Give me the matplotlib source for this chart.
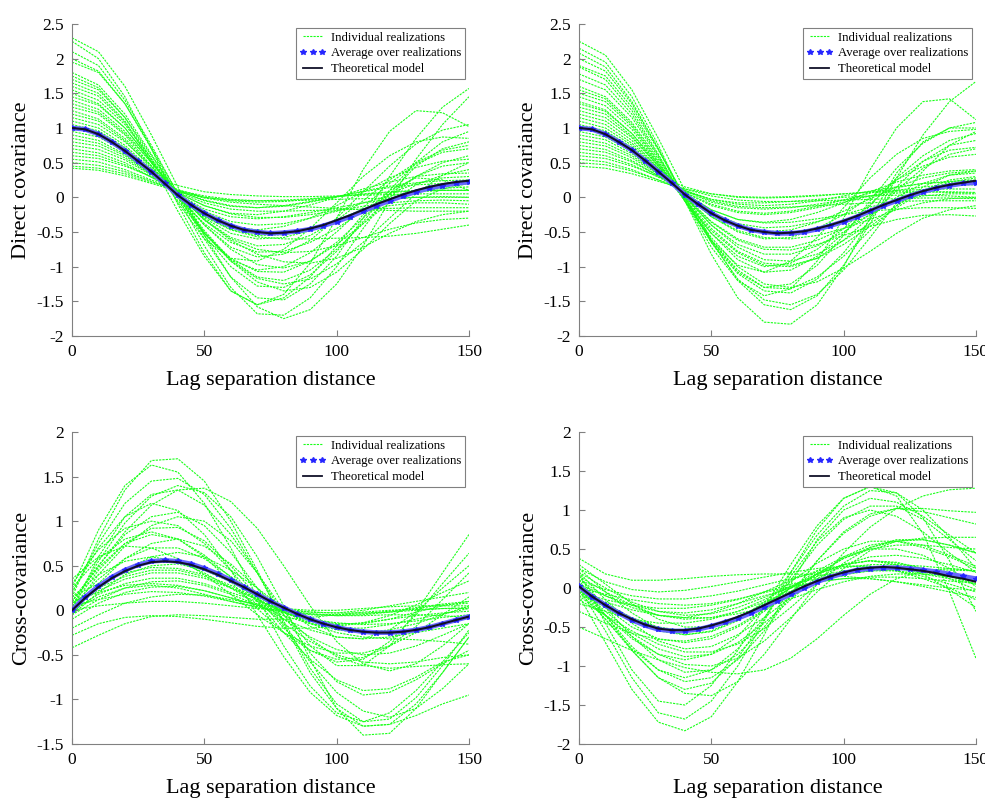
import matplotlib
matplotlib.use("Agg")
import matplotlib.pyplot as plt
from matplotlib.lines import Line2D
from matplotlib.ticker import FuncFormatter
import numpy as np

plt.rcParams['font.family'] = 'Liberation Serif'
plt.rcParams['axes.unicode_minus'] = False

# lags of the individual realizations (every 10) and of the model / average (every 5)
lagCoarse = list(range(0, 151, 10))
lagFine = list(range(0, 151, 5))

# ---------------- top left : direct covariance ----------------
theoTL = [1.00, 0.98, 0.91, 0.80, 0.67, 0.52, 0.37, 0.20, 0.03, -0.11, -0.23, -0.33, -0.41, -0.47, -0.50, -0.52,
          -0.51, -0.49, -0.45, -0.40, -0.33, -0.26, -0.18, -0.10, -0.03, 0.04, 0.10, 0.15, 0.19, 0.22, 0.24]
avgTL = [1.00, 0.98, 0.91, 0.80, 0.67, 0.52, 0.37, 0.20, 0.03, -0.11, -0.23, -0.33, -0.41, -0.47, -0.50, -0.52,
         -0.51, -0.49, -0.46, -0.41, -0.35, -0.28, -0.20, -0.12, -0.05, 0.02, 0.08, 0.13, 0.17, 0.20, 0.22]
realTL = [
    [2.30, 2.10, 1.60, 0.90, 0.15, -0.55, -1.15, -1.58, -1.75, -1.62, -1.25, -0.70, -0.05, 0.55, 1.05, 1.45],
    [2.25, 2.00, 1.45, 0.70, -0.10, -0.80, -1.35, -1.55, -1.40, -0.95, -0.30, 0.40, 0.95, 1.25, 1.22, 1.02],
    [2.10, 1.90, 1.40, 0.75, 0.05, -0.60, -1.15, -1.45, -1.48, -1.25, -0.85, -0.30, 0.30, 0.85, 1.30, 1.57],
    [1.95, 1.80, 1.35, 0.70, 0.00, -0.70, -1.30, -1.68, -1.70, -1.45, -1.00, -0.45, 0.05, 0.45, 0.70, 0.80],
    [1.80, 1.62, 1.20, 0.62, 0.02, -0.55, -1.00, -1.28, -1.30, -1.12, -0.78, -0.35, 0.10, 0.50, 0.80, 0.95],
    [1.70, 1.55, 1.15, 0.60, 0.05, -0.48, -0.90, -1.15, -1.20, -1.05, -0.75, -0.38, 0.00, 0.30, 0.50, 0.60],
    [1.65, 1.50, 1.10, 0.50, -0.20, -0.85, -1.35, -1.55, -1.45, -1.15, -0.70, -0.25, 0.10, 0.28, 0.25, 0.10],
    [1.55, 1.40, 1.05, 0.55, 0.05, -0.40, -0.75, -0.97, -1.02, -0.92, -0.68, -0.38, -0.08, 0.18, 0.32, 0.40],
    [1.50, 1.35, 1.00, 0.52, 0.02, -0.40, -0.72, -0.86, -0.82, -0.62, -0.30, 0.08, 0.45, 0.77, 0.97, 1.05],
    [1.45, 1.33, 1.00, 0.52, 0.00, -0.50, -0.92, -1.22, -1.35, -1.30, -1.08, -0.75, -0.38, -0.05, 0.12, 0.20],
    [1.40, 1.27, 0.95, 0.50, 0.05, -0.32, -0.58, -0.70, -0.68, -0.55, -0.33, -0.05, 0.25, 0.50, 0.68, 0.75],
    [1.30, 1.20, 0.90, 0.45, -0.05, -0.52, -0.88, -1.07, -1.08, -0.92, -0.65, -0.30, 0.05, 0.30, 0.45, 0.50],
    [1.25, 1.13, 0.85, 0.45, 0.03, -0.30, -0.52, -0.60, -0.58, -0.48, -0.35, -0.22, -0.12, -0.08, -0.08, -0.10],
    [1.20, 1.10, 0.82, 0.42, 0.00, -0.38, -0.65, -0.79, -0.78, -0.65, -0.45, -0.20, 0.05, 0.20, 0.28, 0.30],
    [1.15, 1.05, 0.80, 0.45, 0.05, -0.32, -0.62, -0.82, -0.93, -0.95, -0.88, -0.72, -0.52, -0.35, -0.25, -0.20],
    [1.10, 1.00, 0.75, 0.40, 0.02, -0.28, -0.47, -0.57, -0.60, -0.60, -0.59, -0.58, -0.56, -0.52, -0.46, -0.40],
    [1.05, 0.96, 0.72, 0.38, 0.02, -0.27, -0.46, -0.55, -0.54, -0.46, -0.33, -0.17, -0.02, 0.08, 0.13, 0.15],
    [1.00, 0.92, 0.70, 0.38, 0.03, -0.25, -0.42, -0.47, -0.42, -0.30, -0.12, 0.08, 0.28, 0.43, 0.52, 0.55],
    [0.95, 0.87, 0.66, 0.36, 0.05, -0.17, -0.28, -0.31, -0.28, -0.22, -0.15, -0.08, -0.03, 0.00, 0.01, 0.00],
    [0.90, 0.82, 0.62, 0.34, 0.03, -0.20, -0.35, -0.40, -0.38, -0.30, -0.20, -0.08, 0.02, 0.08, 0.10, 0.10],
    [0.85, 0.78, 0.60, 0.34, 0.07, -0.12, -0.23, -0.25, -0.20, -0.11, 0.00, 0.12, 0.22, 0.30, 0.34, 0.35],
    [0.80, 0.74, 0.57, 0.33, 0.08, -0.08, -0.17, -0.20, -0.20, -0.19, -0.18, -0.17, -0.16, -0.15, -0.15, -0.15],
    [0.75, 0.69, 0.54, 0.32, 0.10, -0.05, -0.13, -0.15, -0.12, -0.06, 0.01, 0.08, 0.14, 0.18, 0.20, 0.20],
    [0.70, 0.64, 0.50, 0.29, 0.06, -0.12, -0.24, -0.29, -0.29, -0.25, -0.19, -0.13, -0.08, -0.05, -0.04, -0.05],
    [0.65, 0.60, 0.47, 0.29, 0.11, 0.00, -0.04, -0.05, -0.04, -0.02, 0.01, 0.04, 0.07, 0.09, 0.10, 0.10],
    [0.60, 0.56, 0.45, 0.30, 0.17, 0.08, 0.04, 0.02, 0.01, 0.01, 0.02, 0.03, 0.04, 0.05, 0.05, 0.05],
    [0.55, 0.51, 0.40, 0.25, 0.09, -0.04, -0.12, -0.15, -0.13, -0.07, 0.01, 0.09, 0.16, 0.21, 0.24, 0.25],
    [0.50, 0.46, 0.37, 0.23, 0.09, -0.01, -0.07, -0.10, -0.12, -0.14, -0.16, -0.18, -0.19, -0.20, -0.20, -0.20],
    [0.45, 0.42, 0.34, 0.22, 0.10, 0.02, -0.03, -0.05, -0.05, -0.04, -0.03, -0.02, -0.01, 0.00, 0.00, 0.00],
    [0.42, 0.39, 0.31, 0.20, 0.09, 0.00, -0.05, -0.07, -0.06, -0.03, 0.01, 0.05, 0.08, 0.10, 0.10, 0.10],
    [1.75, 1.58, 1.15, 0.55, -0.08, -0.60, -0.88, -0.92, -0.75, -0.45, -0.08, 0.30, 0.60, 0.80, 0.87, 0.85],
    [2.00, 1.82, 1.35, 0.72, 0.05, -0.52, -0.90, -1.05, -1.00, -0.80, -0.50, -0.15, 0.20, 0.48, 0.65, 0.70],
    [1.35, 1.23, 0.92, 0.50, 0.05, -0.33, -0.60, -0.75, -0.80, -0.78, -0.70, -0.58, -0.46, -0.37, -0.32, -0.30],
    [1.60, 1.46, 1.08, 0.56, 0.00, -0.52, -0.92, -1.17, -1.25, -1.18, -0.96, -0.65, -0.30, 0.05, 0.32, 0.50],
]

# ---------------- top right : direct covariance ----------------
theoTR = [1.00, 0.98, 0.91, 0.80, 0.68, 0.53, 0.37, 0.21, 0.04, -0.10, -0.23, -0.33, -0.41, -0.47, -0.50, -0.52,
          -0.51, -0.49, -0.45, -0.40, -0.34, -0.27, -0.19, -0.11, -0.04, 0.03, 0.09, 0.14, 0.18, 0.21, 0.24]
avgTR = [1.00, 0.98, 0.91, 0.80, 0.68, 0.53, 0.37, 0.21, 0.04, -0.10, -0.23, -0.33, -0.41, -0.47, -0.50, -0.52,
         -0.52, -0.50, -0.46, -0.41, -0.35, -0.28, -0.20, -0.12, -0.05, 0.02, 0.08, 0.13, 0.17, 0.20, 0.21]
realTR = [
    [2.25, 2.05, 1.55, 0.85, 0.10, -0.62, -1.20, -1.55, -1.62, -1.42, -0.98, -0.38, 0.28, 0.90, 1.38, 1.67],
    [2.15, 1.95, 1.45, 0.75, -0.05, -0.82, -1.45, -1.80, -1.83, -1.55, -1.00, -0.30, 0.35, 0.80, 1.00, 1.00],
    [2.08, 1.88, 1.38, 0.70, -0.05, -0.72, -1.20, -1.42, -1.32, -0.92, -0.30, 0.40, 1.00, 1.38, 1.42, 1.12],
    [1.90, 1.75, 1.30, 0.68, 0.00, -0.65, -1.18, -1.48, -1.55, -1.40, -1.05, -0.58, -0.08, 0.38, 0.75, 0.95],
    [1.88, 1.70, 1.25, 0.62, -0.05, -0.65, -1.10, -1.35, -1.38, -1.18, -0.80, -0.32, 0.15, 0.52, 0.75, 0.82],
    [1.70, 1.55, 1.15, 0.58, -0.05, -0.62, -1.05, -1.30, -1.32, -1.15, -0.85, -0.48, -0.12, 0.15, 0.32, 0.38],
    [1.60, 1.45, 1.08, 0.55, -0.02, -0.52, -0.90, -1.08, -1.05, -0.85, -0.52, -0.12, 0.28, 0.60, 0.82, 0.92],
    [1.55, 1.42, 1.05, 0.52, -0.05, -0.58, -1.00, -1.25, -1.30, -1.22, -1.02, -0.78, -0.52, -0.30, -0.18, -0.12],
    [1.50, 1.38, 1.02, 0.50, -0.05, -0.52, -0.85, -1.00, -0.95, -0.75, -0.45, -0.10, 0.25, 0.52, 0.68, 0.72],
    [1.45, 1.32, 0.98, 0.48, -0.02, -0.45, -0.78, -0.95, -0.98, -0.88, -0.68, -0.42, -0.15, 0.08, 0.22, 0.28],
    [1.38, 1.26, 0.92, 0.45, -0.05, -0.48, -0.80, -0.98, -1.00, -0.88, -0.62, -0.28, 0.10, 0.42, 0.62, 0.70],
    [1.30, 1.20, 0.88, 0.45, 0.00, -0.40, -0.68, -0.82, -0.82, -0.70, -0.50, -0.25, 0.00, 0.20, 0.32, 0.35],
    [1.25, 1.15, 0.86, 0.45, 0.02, -0.35, -0.60, -0.72, -0.72, -0.62, -0.45, -0.25, -0.05, 0.10, 0.18, 0.20],
    [1.20, 1.10, 0.82, 0.42, 0.00, -0.36, -0.62, -0.75, -0.76, -0.68, -0.55, -0.42, -0.32, -0.26, -0.25, -0.27],
    [1.15, 1.05, 0.78, 0.42, 0.04, -0.28, -0.50, -0.60, -0.58, -0.45, -0.25, 0.00, 0.25, 0.45, 0.58, 0.62],
    [1.10, 1.00, 0.75, 0.40, 0.03, -0.28, -0.48, -0.58, -0.60, -0.55, -0.45, -0.32, -0.18, -0.08, -0.02, 0.00],
    [1.05, 0.96, 0.72, 0.38, 0.03, -0.25, -0.43, -0.50, -0.47, -0.36, -0.20, -0.02, 0.15, 0.28, 0.35, 0.38],
    [1.00, 0.92, 0.70, 0.38, 0.04, -0.22, -0.38, -0.44, -0.42, -0.35, -0.25, -0.14, -0.05, 0.02, 0.05, 0.05],
    [0.95, 0.87, 0.66, 0.36, 0.06, -0.18, -0.32, -0.36, -0.32, -0.22, -0.08, 0.08, 0.22, 0.32, 0.38, 0.40],
    [0.90, 0.83, 0.63, 0.35, 0.05, -0.18, -0.32, -0.37, -0.36, -0.31, -0.25, -0.20, -0.17, -0.15, -0.15, -0.16],
    [0.85, 0.78, 0.60, 0.34, 0.07, -0.12, -0.22, -0.25, -0.22, -0.15, -0.07, 0.02, 0.10, 0.15, 0.18, 0.18],
    [0.80, 0.74, 0.57, 0.33, 0.09, -0.07, -0.15, -0.17, -0.15, -0.10, -0.04, 0.02, 0.06, 0.08, 0.08, 0.07],
    [0.75, 0.69, 0.53, 0.31, 0.07, -0.10, -0.20, -0.23, -0.20, -0.13, -0.04, 0.06, 0.14, 0.20, 0.22, 0.22],
    [0.70, 0.65, 0.51, 0.31, 0.10, -0.03, -0.08, -0.08, -0.06, -0.03, 0.00, 0.02, 0.03, 0.03, 0.02, 0.00],
    [0.65, 0.60, 0.47, 0.29, 0.10, -0.05, -0.13, -0.15, -0.14, -0.12, -0.10, -0.08, -0.06, -0.05, -0.05, -0.05],
    [0.60, 0.56, 0.45, 0.30, 0.15, 0.05, 0.00, -0.01, 0.00, 0.02, 0.05, 0.08, 0.10, 0.11, 0.12, 0.12],
    [0.55, 0.51, 0.40, 0.25, 0.09, -0.03, -0.10, -0.12, -0.10, -0.05, 0.02, 0.09, 0.15, 0.20, 0.23, 0.25],
    [0.50, 0.47, 0.38, 0.25, 0.12, 0.02, -0.04, -0.06, -0.06, -0.05, -0.04, -0.03, -0.02, -0.01, -0.01, -0.02],
    [0.45, 0.42, 0.34, 0.23, 0.12, 0.05, 0.01, 0.00, 0.01, 0.03, 0.05, 0.07, 0.08, 0.08, 0.07, 0.06],
    [1.78, 1.62, 1.20, 0.60, -0.05, -0.62, -0.98, -1.08, -0.92, -0.58, -0.15, 0.28, 0.62, 0.85, 0.95, 0.98],
    [2.00, 1.82, 1.35, 0.70, 0.00, -0.62, -1.08, -1.30, -1.25, -0.98, -0.55, -0.05, 0.42, 0.78, 1.00, 1.08],
    [1.35, 1.24, 0.92, 0.48, 0.02, -0.40, -0.72, -0.90, -0.92, -0.82, -0.62, -0.38, -0.12, 0.10, 0.25, 0.30],
]

# ---------------- bottom left : cross-covariance ----------------
theoBL = [0.00, 0.14, 0.26, 0.36, 0.44, 0.50, 0.54, 0.55, 0.54, 0.51, 0.46, 0.40, 0.33, 0.26, 0.18, 0.10,
          0.03, -0.04, -0.10, -0.15, -0.19, -0.22, -0.24, -0.25, -0.25, -0.24, -0.22, -0.19, -0.15, -0.11, -0.07]
avgBL = [0.00, 0.15, 0.27, 0.37, 0.45, 0.51, 0.55, 0.56, 0.55, 0.52, 0.47, 0.41, 0.34, 0.26, 0.18, 0.10,
         0.03, -0.04, -0.10, -0.15, -0.19, -0.22, -0.24, -0.25, -0.25, -0.24, -0.22, -0.19, -0.15, -0.11, -0.07]
realBL = [
    [0.15, 0.80, 1.35, 1.68, 1.70, 1.45, 1.00, 0.45, -0.15, -0.70, -1.10, -1.30, -1.28, -1.05, -0.70, -0.30],
    [0.25, 0.90, 1.40, 1.63, 1.55, 1.20, 0.70, 0.15, -0.40, -0.85, -1.15, -1.25, -1.15, -0.90, -0.58, -0.25],
    [0.05, 0.55, 0.98, 1.28, 1.40, 1.32, 1.05, 0.60, 0.05, -0.55, -1.10, -1.40, -1.38, -1.10, -0.70, -0.30],
    [0.10, 0.50, 0.88, 1.18, 1.35, 1.37, 1.22, 0.92, 0.50, 0.05, -0.35, -0.60, -0.68, -0.60, -0.40, -0.15],
    [0.20, 0.70, 1.05, 1.20, 1.12, 0.85, 0.45, -0.05, -0.52, -0.92, -1.18, -1.30, -1.28, -1.18, -1.05, -0.95],
    [0.00, 0.40, 0.72, 0.95, 1.05, 1.00, 0.78, 0.42, 0.00, -0.40, -0.62, -0.62, -0.40, -0.02, 0.42, 0.85],
    [0.30, 0.68, 0.92, 1.00, 0.95, 0.75, 0.45, 0.10, -0.25, -0.55, -0.78, -0.90, -0.88, -0.75, -0.58, -0.50],
    [0.05, 0.45, 0.75, 0.92, 0.93, 0.78, 0.50, 0.15, -0.20, -0.45, -0.58, -0.55, -0.35, -0.05, 0.30, 0.64],
    [0.10, 0.48, 0.75, 0.85, 0.80, 0.62, 0.37, 0.10, -0.15, -0.35, -0.50, -0.58, -0.60, -0.58, -0.53, -0.50],
    [-0.05, 0.30, 0.58, 0.75, 0.80, 0.72, 0.52, 0.25, -0.05, -0.32, -0.52, -0.62, -0.65, -0.63, -0.61, -0.60],
    [0.35, 0.60, 0.72, 0.70, 0.58, 0.40, 0.18, -0.05, -0.25, -0.40, -0.48, -0.48, -0.40, -0.25, -0.05, 0.15],
    [0.00, 0.25, 0.45, 0.60, 0.65, 0.60, 0.45, 0.25, 0.02, -0.18, -0.30, -0.32, -0.22, -0.02, 0.25, 0.50],
    [0.15, 0.40, 0.55, 0.60, 0.55, 0.42, 0.25, 0.07, -0.10, -0.22, -0.30, -0.32, -0.30, -0.25, -0.20, -0.15],
    [-0.05, 0.20, 0.40, 0.50, 0.52, 0.45, 0.32, 0.15, 0.00, -0.10, -0.15, -0.15, -0.10, -0.02, 0.05, 0.10],
    [0.05, 0.22, 0.35, 0.42, 0.42, 0.36, 0.25, 0.12, -0.02, -0.15, -0.25, -0.30, -0.32, -0.33, -0.35, -0.38],
    [0.00, 0.18, 0.30, 0.36, 0.36, 0.30, 0.20, 0.10, 0.02, -0.02, -0.03, 0.00, 0.05, 0.10, 0.15, 0.20],
    [0.10, 0.20, 0.28, 0.30, 0.28, 0.22, 0.14, 0.06, 0.00, -0.04, -0.06, -0.05, -0.02, 0.02, 0.06, 0.08],
    [-0.10, 0.08, 0.20, 0.26, 0.27, 0.22, 0.14, 0.05, -0.03, -0.10, -0.14, -0.16, -0.15, -0.12, -0.08, -0.05],
    [0.05, 0.12, 0.18, 0.21, 0.20, 0.16, 0.10, 0.04, -0.01, -0.04, -0.05, -0.04, -0.01, 0.03, 0.07, 0.10],
    [-0.20, -0.05, 0.08, 0.15, 0.18, 0.17, 0.12, 0.07, 0.02, 0.00, 0.00, 0.02, 0.04, 0.05, 0.05, 0.05],
    [0.00, 0.05, 0.08, 0.10, 0.10, 0.08, 0.05, 0.02, 0.00, -0.02, -0.03, -0.03, -0.02, 0.00, 0.02, 0.03],
    [-0.42, -0.28, -0.15, -0.07, -0.05, -0.06, -0.08, -0.10, -0.10, -0.08, -0.05, -0.02, 0.00, 0.01, 0.02, 0.02],
    [-0.28, -0.15, -0.08, -0.06, -0.07, -0.10, -0.14, -0.18, -0.20, -0.20, -0.18, -0.14, -0.10, -0.06, -0.03, -0.01],
    [0.20, 0.75, 1.20, 1.45, 1.48, 1.30, 0.92, 0.42, -0.12, -0.65, -1.05, -1.25, -1.22, -0.98, -0.62, -0.22],
    [0.10, 0.50, 0.85, 1.05, 1.10, 0.95, 0.65, 0.25, -0.18, -0.58, -0.92, -1.13, -1.20, -1.10, -0.88, -0.60],
    [0.25, 0.58, 0.80, 0.88, 0.80, 0.60, 0.32, 0.02, -0.25, -0.45, -0.55, -0.53, -0.40, -0.18, 0.12, 0.42],
    [0.05, 0.35, 0.58, 0.70, 0.70, 0.58, 0.38, 0.14, -0.10, -0.30, -0.44, -0.50, -0.48, -0.40, -0.28, -0.15],
    [0.15, 0.30, 0.42, 0.48, 0.47, 0.40, 0.28, 0.13, -0.02, -0.14, -0.22, -0.25, -0.22, -0.15, -0.05, 0.05],
    [-0.05, 0.12, 0.25, 0.32, 0.33, 0.28, 0.18, 0.06, -0.06, -0.15, -0.20, -0.20, -0.16, -0.10, -0.04, 0.02],
    [0.08, 0.25, 0.38, 0.45, 0.45, 0.38, 0.26, 0.12, -0.02, -0.12, -0.16, -0.14, -0.06, 0.06, 0.20, 0.33],
    [0.00, 0.60, 1.05, 1.30, 1.35, 1.18, 0.85, 0.42, -0.05, -0.48, -0.80, -0.95, -0.92, -0.78, -0.60, -0.45],
    [0.00, 0.15, 0.25, 0.28, 0.25, 0.18, 0.10, 0.03, -0.02, -0.05, -0.06, -0.06, -0.05, -0.05, -0.06, -0.08],
]

# ---------------- bottom right : cross-covariance ----------------
theoBR = [0.02, -0.11, -0.22, -0.32, -0.40, -0.47, -0.52, -0.54, -0.54, -0.52, -0.48, -0.43, -0.37, -0.30, -0.22, -0.14,
          -0.06, 0.02, 0.09, 0.15, 0.20, 0.24, 0.26, 0.27, 0.26, 0.24, 0.22, 0.19, 0.15, 0.12, 0.08]
avgBR = [0.02, -0.11, -0.22, -0.32, -0.41, -0.48, -0.53, -0.55, -0.55, -0.53, -0.49, -0.44, -0.39, -0.32, -0.24, -0.16,
         -0.08, 0.00, 0.08, 0.14, 0.19, 0.23, 0.25, 0.26, 0.26, 0.25, 0.23, 0.21, 0.18, 0.15, 0.12]
realBR = [
    [-0.10, -0.70, -1.30, -1.72, -1.83, -1.65, -1.20, -0.60, 0.05, 0.62, 1.00, 1.15, 1.10, 0.92, 0.68, 0.45],
    [0.00, -0.55, -1.15, -1.60, -1.68, -1.45, -1.00, -0.42, 0.15, 0.60, 0.90, 1.00, 0.92, 0.72, 0.45, 0.20],
    [0.20, -0.45, -1.05, -1.45, -1.50, -1.25, -0.80, -0.25, 0.30, 0.80, 1.15, 1.30, 1.22, 0.90, 0.35, -0.30],
    [0.10, -0.35, -0.80, -1.15, -1.30, -1.22, -0.90, -0.40, 0.20, 0.75, 1.15, 1.30, 1.18, 0.70, -0.05, -0.90],
    [-0.05, -0.40, -0.80, -1.15, -1.35, -1.38, -1.20, -0.85, -0.40, 0.05, 0.45, 0.78, 1.02, 1.18, 1.26, 1.28],
    [0.05, -0.35, -0.75, -1.05, -1.20, -1.15, -0.92, -0.55, -0.10, 0.35, 0.72, 0.95, 1.02, 0.98, 0.90, 0.82],
    [0.15, -0.25, -0.62, -0.92, -1.08, -1.05, -0.85, -0.50, -0.08, 0.35, 0.70, 0.92, 1.02, 1.02, 0.99, 0.97],
    [-0.10, -0.35, -0.62, -0.85, -0.98, -1.00, -0.90, -0.68, -0.38, -0.05, 0.25, 0.48, 0.60, 0.62, 0.55, 0.45],
    [0.00, -0.30, -0.58, -0.78, -0.88, -0.85, -0.70, -0.45, -0.15, 0.15, 0.40, 0.55, 0.60, 0.55, 0.42, 0.28],
    [-0.50, -0.65, -0.80, -0.92, -1.02, -1.08, -1.10, -1.05, -0.90, -0.65, -0.35, -0.08, 0.12, 0.22, 0.25, 0.22],
    [0.20, -0.15, -0.45, -0.68, -0.78, -0.75, -0.60, -0.38, -0.12, 0.12, 0.30, 0.40, 0.42, 0.38, 0.30, 0.20],
    [0.05, -0.25, -0.50, -0.65, -0.70, -0.65, -0.50, -0.30, -0.05, 0.18, 0.38, 0.52, 0.60, 0.64, 0.65, 0.65],
    [0.25, -0.05, -0.32, -0.52, -0.60, -0.56, -0.42, -0.22, 0.00, 0.18, 0.30, 0.35, 0.32, 0.25, 0.15, 0.05],
    [-0.05, -0.25, -0.42, -0.52, -0.55, -0.50, -0.40, -0.25, -0.08, 0.08, 0.20, 0.27, 0.28, 0.24, 0.18, 0.10],
    [0.15, -0.05, -0.22, -0.35, -0.40, -0.38, -0.30, -0.18, -0.04, 0.08, 0.17, 0.22, 0.22, 0.18, 0.12, 0.05],
    [0.05, -0.10, -0.22, -0.30, -0.32, -0.28, -0.20, -0.10, 0.00, 0.08, 0.12, 0.12, 0.08, 0.02, -0.05, -0.12],
    [0.00, -0.08, -0.15, -0.20, -0.22, -0.20, -0.14, -0.06, 0.02, 0.08, 0.12, 0.14, 0.14, 0.12, 0.09, 0.06],
    [0.38, 0.18, 0.10, 0.10, 0.12, 0.15, 0.17, 0.18, 0.18, 0.17, 0.15, 0.12, 0.08, 0.04, 0.00, -0.03],
    [0.25, 0.08, -0.02, -0.05, -0.03, 0.02, 0.08, 0.14, 0.20, 0.25, 0.28, 0.28, 0.25, 0.20, 0.15, 0.10],
    [0.10, -0.02, -0.10, -0.14, -0.14, -0.10, -0.04, 0.04, 0.12, 0.20, 0.26, 0.30, 0.30, 0.28, 0.25, 0.22],
    [-0.20, -0.30, -0.40, -0.45, -0.45, -0.40, -0.30, -0.15, 0.02, 0.18, 0.30, 0.35, 0.33, 0.25, 0.12, -0.02],
    [-0.30, -0.45, -0.58, -0.66, -0.68, -0.62, -0.48, -0.28, -0.05, 0.18, 0.38, 0.50, 0.55, 0.55, 0.52, 0.50],
    [0.00, -0.35, -0.65, -0.85, -0.92, -0.85, -0.62, -0.25, 0.20, 0.68, 1.05, 1.25, 1.22, 1.00, 0.65, 0.25],
    [0.05, -0.20, -0.40, -0.55, -0.60, -0.55, -0.40, -0.18, 0.08, 0.32, 0.50, 0.60, 0.60, 0.52, 0.40, 0.25],
    [-0.15, -0.35, -0.55, -0.72, -0.82, -0.82, -0.72, -0.52, -0.25, 0.05, 0.32, 0.52, 0.62, 0.62, 0.55, 0.45],
    [0.10, -0.10, -0.25, -0.35, -0.38, -0.32, -0.20, -0.05, 0.10, 0.22, 0.28, 0.28, 0.22, 0.12, 0.00, -0.15],
    [0.20, 0.00, -0.18, -0.30, -0.35, -0.33, -0.25, -0.12, 0.02, 0.15, 0.22, 0.25, 0.22, 0.15, 0.05, -0.05],
    [-0.05, -0.15, -0.22, -0.26, -0.26, -0.22, -0.15, -0.05, 0.05, 0.12, 0.18, 0.22, 0.24, 0.24, 0.23, 0.22],
    [0.00, -0.40, -0.78, -1.05, -1.15, -1.05, -0.78, -0.38, 0.10, 0.55, 0.88, 1.05, 1.05, 0.88, 0.62, 0.35],
    [0.30, 0.05, -0.20, -0.40, -0.50, -0.50, -0.40, -0.22, 0.00, 0.22, 0.40, 0.50, 0.50, 0.42, 0.25, 0.02],
    [-0.10, -0.18, -0.28, -0.35, -0.38, -0.38, -0.33, -0.25, -0.14, -0.02, 0.08, 0.15, 0.18, 0.18, 0.15, 0.12],
    [0.00, -0.20, -0.38, -0.50, -0.55, -0.50, -0.38, -0.20, 0.00, 0.18, 0.30, 0.35, 0.30, 0.18, -0.02, -0.25],
]

greenColor = (0.1, 1.0, 0.1)
blueColor = (0.4, 0.4, 1.0)
starColor = (0.15, 0.15, 1.0)
modelColor = '#101028'
axisGray = '#808080'


def plotPanel(ax, realizations, average, theoretical, yLimits, yLabel):
	for curve in realizations:
		ax.plot(lagCoarse, curve, color=greenColor, lw=0.8, linestyle=(0, (2.0, 1.0)), zorder=1)
	ax.plot(lagFine, average, color=blueColor, lw=3.4, solid_capstyle='butt', zorder=2)
	ax.plot(lagFine, average, linestyle='none', marker='*', ms=4, color=starColor, zorder=3)
	ax.plot(lagFine, theoretical, color=modelColor, lw=1.5, zorder=4)

	ax.set_xlim(0, 150)
	ax.set_ylim(yLimits)
	ax.set_xticks([0, 50, 100, 150])
	ax.set_yticks(np.arange(yLimits[0], yLimits[1] + 0.01, 0.5))
	ax.yaxis.set_major_formatter(FuncFormatter(lambda v, p: '%g' % v))
	ax.tick_params(direction='in', length=4, width=0.8, color=axisGray, labelsize=12.5, pad=6)
	for side in ['top', 'right']:
		ax.spines[side].set_visible(False)
	for side in ['left', 'bottom']:
		ax.spines[side].set_color(axisGray)
		ax.spines[side].set_linewidth(0.8)
	ax.set_xlabel("Lag separation distance", fontsize=16, labelpad=8)
	ax.set_ylabel(yLabel, fontsize=16, labelpad=4)

	handles = [
		Line2D([], [], color=greenColor, lw=0.8, linestyle=(0, (2.0, 1.0))),
		Line2D([], [], linestyle='none', marker='*', ms=4, color=starColor),
		Line2D([], [], color=modelColor, lw=1.3),
	]
	labels = ["Individual realizations", "Average over realizations", "Theoretical model"]
	leg = ax.legend(handles, labels, loc='upper right', bbox_to_anchor=(0.99, 0.988), fontsize=9.2,
					numpoints=3, handlelength=2.1, handletextpad=0.35, borderpad=0.3, labelspacing=0.3,
					fancybox=False, framealpha=1.0, edgecolor=axisGray, borderaxespad=0.0)
	leg.get_frame().set_linewidth(0.8)
	leg.set_zorder(10)


fig = plt.figure(figsize=(9.85, 7.99), dpi=100)
axTL = fig.add_axes([0.0731, 0.5795, 0.4030, 0.3905])
axTR = fig.add_axes([0.5878, 0.5795, 0.4030, 0.3905])
axBL = fig.add_axes([0.0731, 0.0688, 0.4030, 0.3905])
axBR = fig.add_axes([0.5878, 0.0688, 0.4030, 0.3905])

plotPanel(axTL, realTL, avgTL, theoTL, (-2, 2.5), "Direct covariance")
plotPanel(axTR, realTR, avgTR, theoTR, (-2, 2.5), "Direct covariance")
plotPanel(axBL, realBL, avgBL, theoBL, (-1.5, 2), "Cross-covariance")
plotPanel(axBR, realBR, avgBR, theoBR, (-2, 2), "Cross-covariance")

fig.savefig("out.png", dpi=100)
